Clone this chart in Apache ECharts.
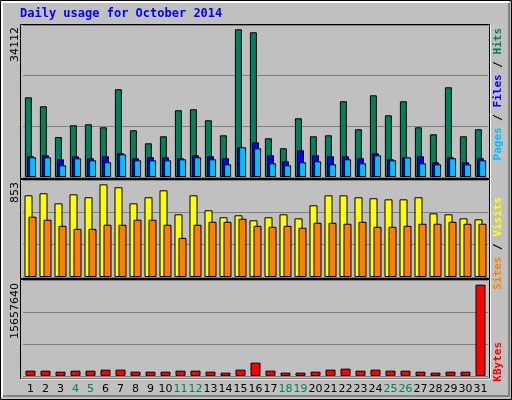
<!DOCTYPE html>
<html><head><meta charset="utf-8">
<script src="https://cdn.jsdelivr.net/npm/echarts@6/dist/echarts.min.js"></script>
<style>html,body{margin:0;padding:0;background:#c0c0c0}#c{width:512px;height:400px}</style>
</head><body><div id="c"></div>
<script>
const days = Array.from({length:31},(_, i)=>String(i+1));
const weekend = ['4','5','11','12','18','19','25','26'];
const hits = [18410,16330,9240,11940,12170,11480,20260,10790,7780,9400,15410,15640,13100,9630,34112,33420,8940,6630,13560,9400,9630,17490,11020,18870,14250,17490,11480,9860,20720,9400,11020];
const files = [4780,5010,4090,4780,4320,4780,5470,4320,4550,4550,4320,5010,4780,4320,6860,8020,5010,3630,6170,5010,4780,4780,4320,5470,4090,4550,4780,3400,4550,3400,4320];
const pages = [4550,4550,2700,4320,3860,3400,5240,3860,3860,3860,4090,4550,4090,2930,6860,6630,3160,2700,3400,3630,2930,4090,3160,5010,3860,4550,3160,2930,4320,2930,3860];
const visits = [752,771,678,761,734,853,826,678,734,798,577,752,614,550,568,522,550,577,540,660,752,752,734,725,715,715,734,586,577,540,531];
const sites = [555,527,471,443,443,481,481,527,527,481,360,481,508,508,536,471,462,471,453,499,499,490,508,462,462,471,490,490,508,490,490];
const kbytes = [914000,914000,743000,914000,914000,1086000,1086000,743000,743000,743000,914000,914000,743000,571000,1086000,2286000,914000,571000,571000,743000,1086000,1257000,914000,1086000,914000,914000,743000,571000,743000,743000,15657640];
const topLabels = ['34112','853','15657640'];

const max1 = 35105, max2 = 893, max3 = 16464000;
const bs = {borderColor:'#000',borderWidth:1};
const chart = echarts.init(document.getElementById('c'));
const grids = [
  {left:23,width:465,top:25,height:152},
  {left:23,width:465,top:180,height:97},
  {left:23,width:465,top:280,height:96}
];
function xa(i,show){return {type:'category',gridIndex:i,data:days,boundaryGap:true,
  axisLine:{show:false},axisTick:{show:false},
  axisLabel:{show:show,margin:8,fontFamily:'DejaVu Sans',fontSize:11,interval:0,
    color:(v)=>weekend.includes(v)?'#00805c':'#000'}};}
function ya(i,m){return {type:'value',gridIndex:i,min:0,max:m,interval:m/3,
  axisLabel:{show:false},axisLine:{show:false},axisTick:{show:false},
  splitLine:{show:true,lineStyle:{color:'#808080',width:1}}};}
const rt = (x,y,rich,text)=>({type:'text',x:x,y:y,rotation:Math.PI/2,
  style:{text:text,rich:rich,font:'bold 11px "DejaVu Sans Mono"',align:'right',verticalAlign:'middle'}});
chart.setOption({
  animation:false,
  backgroundColor:'#c0c0c0',
  grid:grids,
  xAxis:[xa(0,false),xa(1,false),xa(2,true)],
  yAxis:[ya(0,max1),ya(1,max2),ya(2,max3)],
  series:[
    {type:'bar',xAxisIndex:0,yAxisIndex:0,data:hits,barWidth:7,barGap:'-70%',itemStyle:{color:'#00805c',...bs}},
    {type:'bar',xAxisIndex:0,yAxisIndex:0,data:files,barWidth:7,barGap:'-70%',itemStyle:{color:'#0000ff',...bs}},
    {type:'bar',xAxisIndex:0,yAxisIndex:0,data:pages,barWidth:7,barGap:'-70%',itemStyle:{color:'#00c0ff',...bs}},
    {type:'bar',xAxisIndex:1,yAxisIndex:1,data:visits,barWidth:8,barGap:'-50%',itemStyle:{color:'#ffff00',...bs}},
    {type:'bar',xAxisIndex:1,yAxisIndex:1,data:sites,barWidth:8,barGap:'-50%',itemStyle:{color:'#ff8000',...bs}},
    {type:'bar',xAxisIndex:2,yAxisIndex:2,data:kbytes,barWidth:10,itemStyle:{color:'#ff0000',...bs}}
  ],
  graphic:[
    {type:'rect',shape:{x:0.5,y:0.5,width:511,height:399},style:{fill:'none',stroke:'#000',lineWidth:1},z:-1},
    {type:'polyline',shape:{points:[[2,397],[2,2],[509,2]]},style:{stroke:'#fff',lineWidth:2,fill:'none'},z:-1},
    {type:'polyline',shape:{points:[[3,396],[509,396],[509,3]]},style:{stroke:'#808080',lineWidth:2,fill:'none'},z:-1},
    {type:'rect',shape:{x:20.5,y:24.5,width:469,height:154},style:{fill:'none',stroke:'#000'},z:-1},
    {type:'rect',shape:{x:20.5,y:179.5,width:469,height:99},style:{fill:'none',stroke:'#000'},z:-1},
    {type:'rect',shape:{x:20.5,y:279.5,width:469,height:99},style:{fill:'none',stroke:'#000'},z:-1},
    {type:'polyline',shape:{points:[[490.5,25],[490.5,379],[21,379]]},style:{stroke:'#fff',fill:'none'},z:10},
    {type:'text',x:20,y:8,style:{text:'Daily usage for October 2014',font:'bold 12px "DejaVu Sans Mono"',fill:'#0000ff'}},
    {type:'text',x:15,y:27,rotation:Math.PI/2,style:{text:topLabels[0],font:'11px "DejaVu Sans"',fill:'#000',align:'right',verticalAlign:'middle'}},
    {type:'text',x:15,y:182,rotation:Math.PI/2,style:{text:topLabels[1],font:'11px "DejaVu Sans"',fill:'#000',align:'right',verticalAlign:'middle'}},
    {type:'text',x:15,y:283,rotation:Math.PI/2,style:{text:topLabels[2],font:'11px "DejaVu Sans"',fill:'#000',align:'right',verticalAlign:'middle'}},
    rt(498,28,{h:{fill:'#00805c'},f:{fill:'#0000ff'},p:{fill:'#00c0ff'},s:{fill:'#000'}},'{p|Pages}{s| / }{f|Files}{s| / }{h|Hits}'),
    rt(498,197,{v:{fill:'#ffff00'},s:{fill:'#000'},t:{fill:'#ff8000'}},'{t|Sites}{s| / }{v|Visits}'),
    rt(498,342,{k:{fill:'#ff0000'}},'{k|KBytes}')
  ]
});
</script></body></html>
